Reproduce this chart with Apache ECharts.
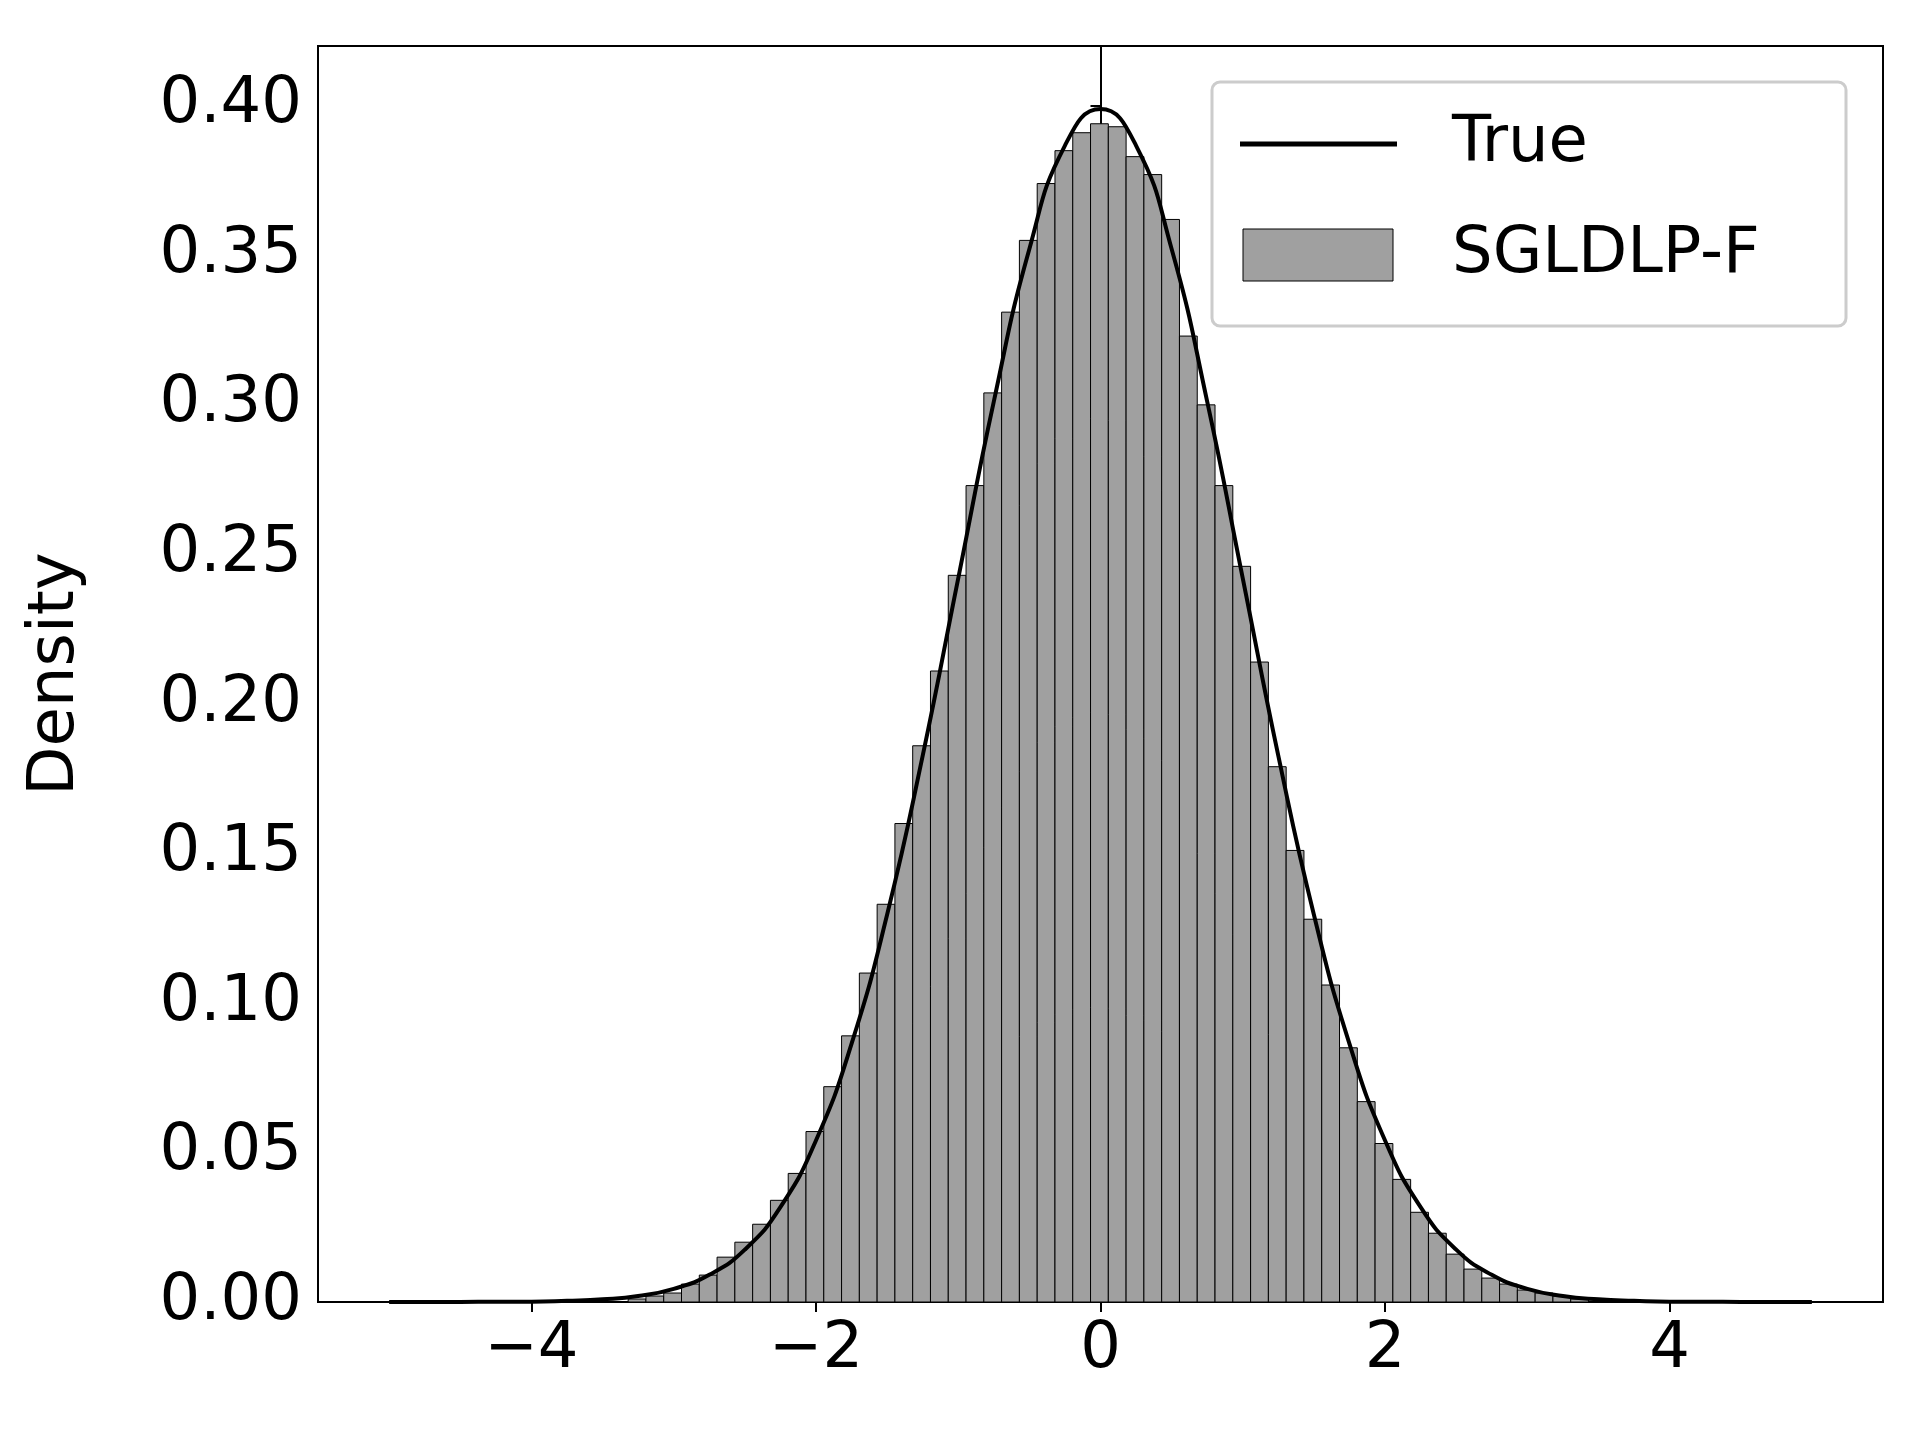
<!DOCTYPE html>
<html><head><meta charset="utf-8">
<script src="https://cdn.jsdelivr.net/npm/echarts@6/dist/echarts.min.js"></script>
<style>html,body{margin:0;padding:0;background:#fff}#c{width:1920px;height:1440px}</style>
</head><body><div id="c"></div>
<script>
const binStart = -3.32;
const binWidth = 0.125;
const heights = [0.001,0.002,0.003,0.006,0.009,0.015,0.020,0.026,0.034,0.043,0.057,0.072,0.089,0.110,0.133,0.160,0.186,0.211,0.243,0.273,0.304,0.331,0.355,0.374,0.385,0.391,0.394,0.393,0.383,0.377,0.362,0.323,0.300,0.273,0.246,0.214,0.179,0.151,0.128,0.106,0.085,0.067,0.053,0.041,0.030,0.023,0.016,0.011,0.008,0.006,0.004,0.003,0.002,0.001];
const curveX = [-5,-4.75,-4.5,-4.25,-4,-3.75,-3.5,-3.25,-3,-2.75,-2.5,-2.25,-2,-1.75,-1.5,-1.25,-1,-0.75,-0.5,-0.25,0,0.25,0.5,0.75,1,1.25,1.5,1.75,2,2.25,2.5,2.75,3,3.25,3.5,3.75,4,4.25,4.5,4.75,5];
const curveY = [0,0,0,0.0001,0.0001,0.0004,0.0009,0.0020,0.0044,0.0091,0.0175,0.0317,0.0540,0.0863,0.1295,0.1826,0.2420,0.3011,0.3521,0.3867,0.3989,0.3867,0.3521,0.3011,0.2420,0.1826,0.1295,0.0863,0.0540,0.0317,0.0175,0.0091,0.0044,0.0020,0.0009,0.0004,0.0001,0.0001,0,0,0];
const xTicks = [-4,-2,0,2,4];
const yTicks = [0,0.05,0.10,0.15,0.20,0.25,0.30,0.35,0.40];

const histData = heights.map((h,i)=>[binStart+i*binWidth, binStart+(i+1)*binWidth, h]);
const font = 'DejaVu Sans';
const chart = echarts.init(document.getElementById('c'));
chart.setOption({
  animation:false,
  grid:{left:318,right:37,top:46,bottom:138,show:true,borderColor:'#000',borderWidth:2,backgroundColor:'transparent'},
  xAxis:{type:'value',min:-5.5,max:5.5,
    axisLine:{show:true,lineStyle:{color:'#000',width:2}},
    splitLine:{show:false},
    axisTick:{show:true,length:10,lineStyle:{color:'#000',width:2},customValues:xTicks},
    axisLabel:{customValues:xTicks,fontFamily:font,fontSize:64,color:'#000',margin:16,
      formatter:v=>(v<0?'\u2212'+(-v):String(v))}},
  yAxis:{type:'value',min:0,max:0.42,name:'Density',nameLocation:'middle',nameGap:230,
    nameTextStyle:{fontFamily:font,fontSize:64,color:'#000'},
    axisLine:{show:true,lineStyle:{color:'#000',width:2}},
    splitLine:{show:false},
    axisTick:{show:true,length:10,lineStyle:{color:'#000',width:2},customValues:yTicks},
    axisLabel:{customValues:yTicks,fontFamily:font,fontSize:64,color:'#000',margin:16,
      formatter:v=>v.toFixed(2)}},
  series:[
    {type:'custom',name:'SGLDLP-F',data:histData,encode:{x:[0,1],y:2},
      renderItem:(params,api)=>{
        const p0=api.coord([api.value(0),api.value(2)]);
        const p1=api.coord([api.value(1),0]);
        return {type:'rect',shape:{x:p0[0],y:p0[1],width:p1[0]-p0[0],height:p1[1]-p0[1]},
          style:{fill:'#a0a0a0',stroke:'#000',lineWidth:1}};
      },z:2},
    {type:'line',name:'True',data:curveX.map((x,i)=>[x,curveY[i]]),smooth:0.5,showSymbol:false,
      lineStyle:{color:'#000',width:4},z:3}
  ],
  graphic:[
    {type:'rect',shape:{x:1212,y:82,width:634,height:244,r:8},style:{fill:'rgba(255,255,255,0.8)',stroke:'#ccc',lineWidth:3},z:10},
    {type:'line',shape:{x1:1240,y1:144,x2:1397,y2:144},style:{stroke:'#000',lineWidth:5},z:11},
    {type:'text',x:1452,y:144,style:{text:'True',fontFamily:font,fontSize:64,fill:'#000',verticalAlign:'middle'},z:11},
    {type:'rect',shape:{x:1243,y:229,width:150,height:52},style:{fill:'#a0a0a0',stroke:'#000',lineWidth:1},z:11},
    {type:'text',x:1452,y:255,style:{text:'SGLDLP-F',fontFamily:font,fontSize:64,fill:'#000',verticalAlign:'middle'},z:11}
  ]
});
</script></body></html>
